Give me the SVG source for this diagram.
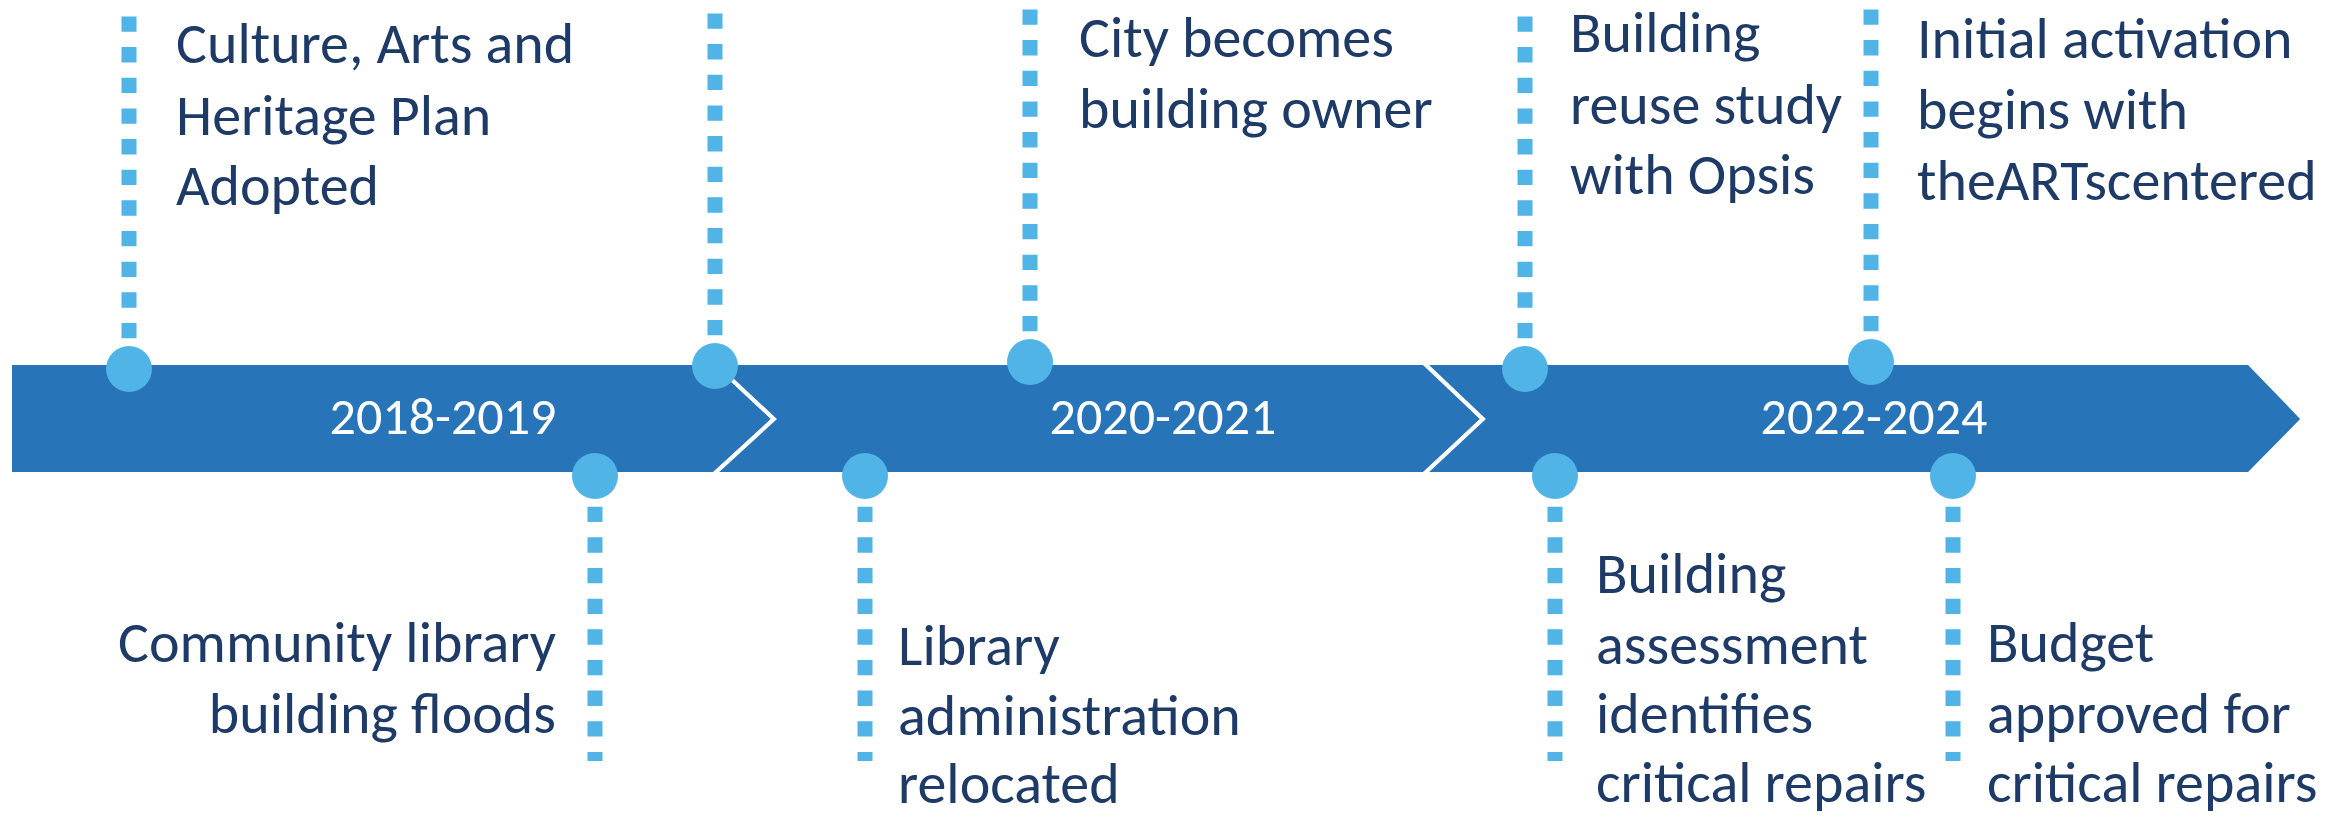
<svg xmlns="http://www.w3.org/2000/svg" width="2348" height="818" viewBox="0 0 2348 818">
<style>
.seg{fill:#2874B8;stroke:#FFFFFF;stroke-width:4;stroke-linejoin:miter}
.dot{fill:#50B4E6}
.dl{stroke:#50B4E6;stroke-width:15;stroke-dasharray:15.33 15.33;fill:none}
.t{font-family:Carlito,Lato,"Liberation Sans",sans-serif;font-size:58px;fill:#1E3A66}
.yr{font-family:Carlito,Lato,"Liberation Sans",sans-serif;font-size:52px;fill:#FFFFFF;text-anchor:middle}
.r{text-anchor:end}
</style>
<rect width="2348" height="818" fill="#FFFFFF"/>
<g id="band">
<polygon id="seg-2018" class="seg" points="10,363 714,363 774,419 714,474 10,474"/>
<polygon id="seg-2020" class="seg" points="714,363 1424,363 1483,419 1424,474 714,474 774,419"/>
<polygon id="seg-2022" class="seg" points="1424,363 2249,363 2303,419 2249,474 1424,474 1483,419"/>
<text class="yr" x="443" y="434">2018-2019</text>
<text class="yr" x="1163" y="434">2020-2021</text>
<text class="yr" x="1874" y="434">2022-2024</text>
</g>
<g id="connectors">
<line class="dl" x1="129" y1="369" x2="129" y2="2"/>
<line class="dl" x1="715" y1="366" x2="715" y2="2"/>
<line class="dl" x1="1030" y1="362" x2="1030" y2="2"/>
<line class="dl" x1="1525" y1="369" x2="1525" y2="2"/>
<line class="dl" x1="1871" y1="362" x2="1871" y2="2"/>
<line class="dl" x1="595" y1="476" x2="595" y2="761"/>
<line class="dl" x1="865" y1="476" x2="865" y2="761"/>
<line class="dl" x1="1555" y1="476" x2="1555" y2="761"/>
<line class="dl" x1="1953" y1="476" x2="1953" y2="761"/>
</g>
<g id="ev-culture-plan">
<circle class="dot" cx="129" cy="369" r="23"/>
<text class="t"><tspan x="176" y="63">Culture, Arts and</tspan><tspan x="176" y="135">Heritage Plan</tspan><tspan x="176" y="205">Adopted</tspan></text>
</g>
<g id="ev-unlabeled-2019">
<circle class="dot" cx="715" cy="366" r="23"/>
</g>
<g id="ev-city-owner">
<circle class="dot" cx="1030" cy="362" r="23"/>
<text class="t"><tspan x="1079" y="57">City becomes</tspan><tspan x="1079" y="128">building owner</tspan></text>
</g>
<g id="ev-reuse-study">
<circle class="dot" cx="1525" cy="369" r="23"/>
<text class="t"><tspan x="1570" y="52">Building</tspan><tspan x="1570" y="124">reuse study</tspan><tspan x="1570" y="194">with Opsis</tspan></text>
</g>
<g id="ev-activation">
<circle class="dot" cx="1871" cy="362" r="23"/>
<text class="t"><tspan x="1917" y="58">Initial activation</tspan><tspan x="1917" y="129">begins with</tspan><tspan x="1917" y="200">theARTscentered</tspan></text>
</g>
<g id="ev-library-floods">
<circle class="dot" cx="595" cy="476" r="23"/>
<text class="t r"><tspan x="556" y="662">Community library</tspan><tspan x="556" y="733">building floods</tspan></text>
</g>
<g id="ev-admin-relocated">
<circle class="dot" cx="865" cy="476" r="23"/>
<text class="t"><tspan x="898" y="665">Library</tspan><tspan x="898" y="735">administration</tspan><tspan x="898" y="803">relocated</tspan></text>
</g>
<g id="ev-assessment">
<circle class="dot" cx="1555" cy="476" r="23"/>
<text class="t"><tspan x="1596" y="593">Building</tspan><tspan x="1596" y="664">assessment</tspan><tspan x="1596" y="733">identifies</tspan><tspan x="1596" y="802">critical repairs</tspan></text>
</g>
<g id="ev-budget">
<circle class="dot" cx="1953" cy="476" r="23"/>
<text class="t"><tspan x="1987" y="662">Budget</tspan><tspan x="1987" y="733">approved for</tspan><tspan x="1987" y="802">critical repairs</tspan></text>
</g>
</svg>
